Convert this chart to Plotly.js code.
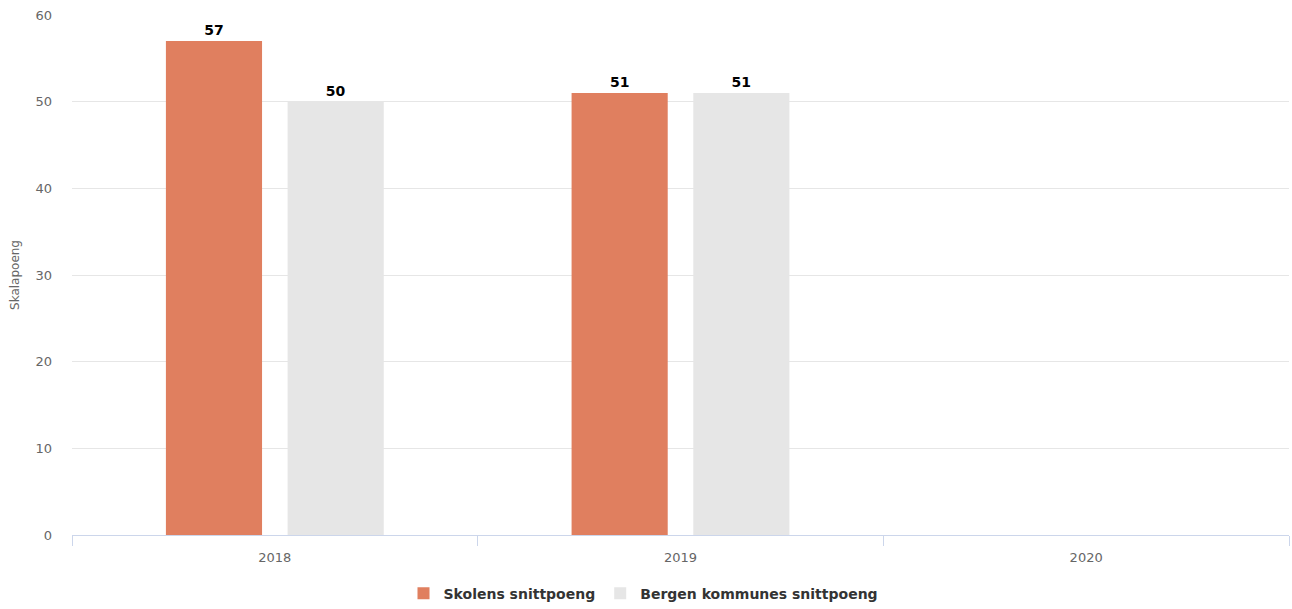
<!DOCTYPE html>
<html>
<head>
<meta charset="utf-8">
<script src="https://cdn.plot.ly/plotly-3.0.1.min.js"></script>
<style>html,body{margin:0;padding:0;background:#fff;}#chart{width:1292px;height:609px;}</style>
</head>
<body>
<div id="chart"></div>
<script>
const years = ['2018', '2019', '2020'];
const skolens = [57, 51, null];
const bergen = [50, 51, null];
const seriesNames = ['Skolens snittpoeng', 'Bergen kommunes snittpoeng'];
const yTitle = 'Skalapoeng';

const font = 'DejaVu Sans, Verdana, sans-serif';
function labels(arr) { return arr.map(v => v == null ? '' : String(v)); }

const traces = [
  {
    type: 'bar', name: seriesNames[0], x: years, y: skolens,
    text: labels(skolens), textposition: 'outside', cliponaxis: false,
    textfont: {family: font, size: 14, color: '#000', weight: 'bold'},
    marker: {color: '#e07f5f'}, hoverinfo: 'none'
  },
  {
    type: 'bar', name: seriesNames[1], x: years, y: bergen,
    text: labels(bergen), textposition: 'outside', cliponaxis: false,
    textfont: {family: font, size: 14, color: '#000', weight: 'bold'},
    marker: {color: '#e6e6e6'}, hoverinfo: 'none'
  }
];

const layout = {
  width: 1292, height: 609,
  margin: {l: 72, r: 3, t: 15, b: 74, autoexpand: false},
  paper_bgcolor: '#fff', plot_bgcolor: '#fff',
  font: {family: font, size: 12, color: '#666'},
  barmode: 'group', bargap: 0.4, bargroupgap: 0.21,
  showlegend: true,
  legend: {orientation: 'h', x: 0.4696, xanchor: 'center', y: -0.113, yanchor: 'middle',
           font: {family: font, size: 14, color: '#333', weight: 'bold'}, traceorder: 'normal'},
  xaxis: {
    type: 'category', showgrid: false, zeroline: false, automargin: false,
    showline: true, linecolor: '#ccd6eb', linewidth: 1,
    ticks: 'outside', tickson: 'boundaries', ticklen: 10, tickcolor: '#ccd6eb',
    ticklabelstandoff: 10,
    tickfont: {family: font, size: 13, color: '#666'}
  },
  yaxis: {
    range: [0, 60], dtick: 10, showgrid: true, gridcolor: '#e6e6e6', zeroline: false,
    showline: false, ticks: '', ticklabelstandoff: 19, automargin: false,
    tickfont: {family: font, size: 13, color: '#666'},
    title: {text: yTitle, font: {family: font, size: 12, color: '#666'}, standoff: 13}
  }
};

Plotly.newPlot('chart', traces, layout, {displayModeBar: false, staticPlot: true});
</script>
</body>
</html>
